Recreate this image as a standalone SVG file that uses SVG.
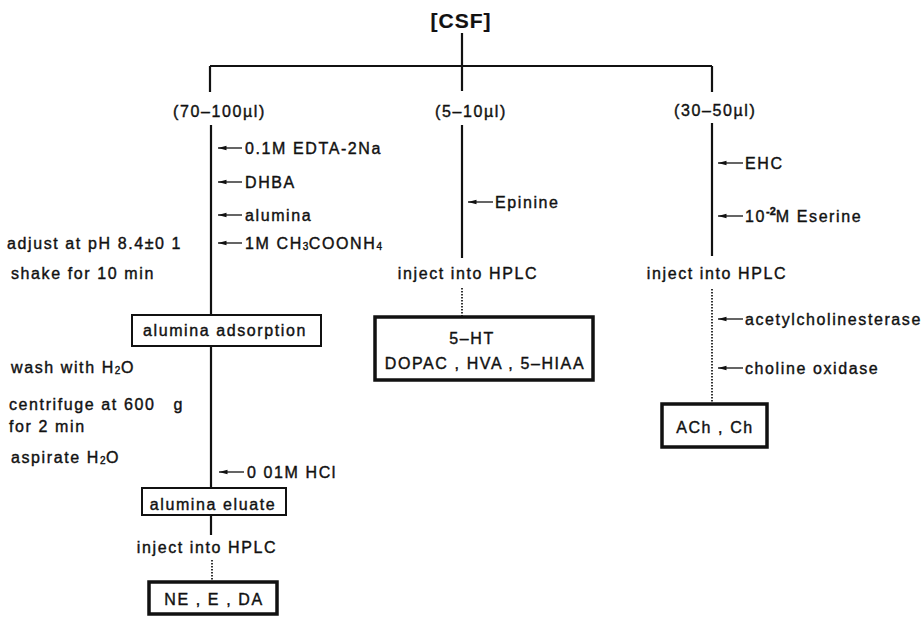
<svg xmlns="http://www.w3.org/2000/svg" width="924" height="618" viewBox="0 0 924 618">
<defs>
<style>
text{font-family:"Liberation Sans",Arial,sans-serif;font-size:16px;letter-spacing:1.6px;fill:#111;stroke:#111;stroke-width:0.4}
.t{font-size:21px;font-weight:bold;letter-spacing:1px;stroke-width:0.2}
.m{text-anchor:middle}
.sub{font-size:10px;letter-spacing:0.5px}
.sup{font-size:11px;font-weight:bold;letter-spacing:0}
.ln{stroke:#111;stroke-width:2.2;fill:none}
.dot{stroke:#111;stroke-width:1.7;stroke-dasharray:1.6 1.4;fill:none}
.ar{stroke:#111;stroke-width:1.3;fill:none}
.box{fill:#fff;stroke:#111;stroke-width:2}
.bx{fill:#fff;stroke:#111;stroke-width:3.5}
</style>
<marker id="ah" viewBox="0 0 9 6" refX="8.5" refY="3" markerWidth="9" markerHeight="6" markerUnits="userSpaceOnUse" orient="auto">
<path d="M0,0.8 L9,3 L0,5.2 Z" fill="#111"/>
</marker>
</defs>
<rect width="924" height="618" fill="#fff"/>
<g id="connectors">
<path class="ln" d="M462,33 V66 M210,66 H712 M210,66 V92 M462,66 V91 M712,66 V92"/>
<path class="ln" d="M211,125 V315 M211,346 V488 M211,515 V535"/>
<path class="dot" d="M212,560 V582"/>
<path class="ln" d="M462,125 V258"/>
<path class="dot" d="M462,288 V317"/>
<path class="ln" d="M712,123 V256"/>
<path class="dot" d="M712,289 V404"/>
<g marker-end="url(#ah)">
<path class="ar" d="M242,148 H218"/>
<path class="ar" d="M242,182 H218"/>
<path class="ar" d="M242,215 H218"/>
<path class="ar" d="M242,243 H218"/>
<path class="ar" d="M244,472 H219"/>
<path class="ar" d="M493,202 H468"/>
<path class="ar" d="M743,163 H718"/>
<path class="ar" d="M743,216 H718"/>
<path class="ar" d="M743,319 H718"/>
<path class="ar" d="M743,368 H718"/>
</g>
</g>
<g id="csf"><text class="t m" x="461" y="28">[CSF]</text></g>
<g id="vol1"><text x="173" y="117">(70–100µl)</text></g>
<g id="vol2"><text x="435" y="117">(5–10µl)</text></g>
<g id="vol3"><text x="674" y="116">(30–50µl)</text></g>
<g id="r-edta"><text x="245" y="154">0.1M EDTA-2Na</text></g>
<g id="r-dhba"><text x="245" y="188">DHBA</text></g>
<g id="r-alumina"><text x="245" y="221">alumina</text></g>
<g id="r-ammac"><text x="245" y="249">1M CH<tspan class="sub" dy="1">3</tspan><tspan dy="-1">COONH</tspan><tspan class="sub" dy="1">4</tspan></text></g>
<g id="s-adjust"><text x="7" y="249">adjust at pH 8.4±0 1</text></g>
<g id="s-shake"><text x="11" y="279">shake for 10 min</text></g>
<g id="adsorption"><rect class="box" x="132" y="315" width="189" height="31"/><text class="m" x="225" y="336">alumina adsorption</text></g>
<g id="s-wash"><text x="11" y="373">wash with H<tspan class="sub" dy="1">2</tspan><tspan dy="-1">O</tspan></text></g>
<g id="s-centrifuge"><text x="9" y="410" xml:space="preserve">centrifuge at 600   g</text><text x="9" y="432">for 2 min</text></g>
<g id="s-aspirate"><text x="11" y="463">aspirate H<tspan class="sub" dy="1">2</tspan><tspan dy="-1">O</tspan></text></g>
<g id="r-hcl"><text x="247" y="478">0 01M HCl</text></g>
<g id="eluate"><rect class="box" x="142" y="488" width="144" height="27"/><text class="m" x="213" y="510">alumina eluate</text></g>
<g id="inject1"><text class="m" x="207" y="553">inject into HPLC</text></g>
<g id="ne"><rect class="bx" x="149" y="582" width="128" height="32"/><text class="m" x="214" y="605">NE , E , DA</text></g>
<g id="r-epinine"><text x="495" y="208">Epinine</text></g>
<g id="inject2"><text class="m" x="468" y="279">inject into HPLC</text></g>
<g id="ht"><rect class="bx" x="375" y="317" width="218" height="63"/><text class="m" x="472" y="344">5–HT</text><text class="m" x="485" y="369">DOPAC , HVA , 5–HIAA</text></g>
<g id="r-ehc"><text x="745" y="169">EHC</text></g>
<g id="r-eserine"><text x="745" y="222">10<tspan class="sup" dy="-7">-2</tspan><tspan dy="7">M Eserine</tspan></text></g>
<g id="inject3"><text class="m" x="717" y="279">inject into HPLC</text></g>
<g id="r-ache"><text x="745" y="325">acetylcholinesterase</text></g>
<g id="r-chox"><text x="745" y="374">choline oxidase</text></g>
<g id="ach"><rect class="bx" x="662" y="404" width="105" height="43"/><text class="m" x="715" y="433">ACh , Ch</text></g>
</svg>
